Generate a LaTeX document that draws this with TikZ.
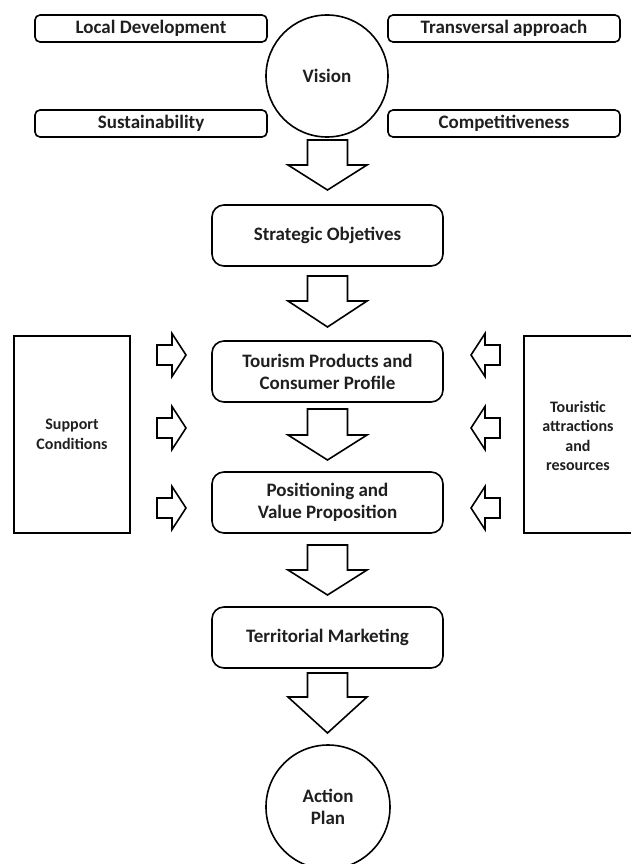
\documentclass[tikz,border=0pt]{standalone}
\usepackage{fontspec}
\setmainfont{Carlito}
\newcommand\bigdownarrow[4]{% x, top, head base, tip
  \draw[blockarrow] (#1-20,#2) -- (#1+20,#2) -- (#1+20,#3) -- (#1+39.5,#3) -- (#1,#4) -- (#1-39.5,#3) -- (#1-20,#3) -- cycle;}
\begin{document}
\begin{tikzpicture}[x=1pt,y=-1pt,
  line width=1.6pt,
  every node/.style={font=\bfseries\fontsize{19}{22}\selectfont, text=black!88, align=center, inner sep=0pt},
  topbox/.style={draw, rounded corners=5pt, minimum width=232pt, minimum height=27pt},
  mainbox/.style={draw, rounded corners=12pt, minimum width=231pt, minimum height=61pt},
  roundnode/.style={draw, circle},
  sidetext/.style={font=\bfseries\fontsize{16}{19.5}\selectfont},
  blockarrow/.style={draw, fill=white, line width=1.6pt, line join=miter},
  rarr/.pic={\draw[blockarrow] (0,-10) -- (15,-10) -- (15,-21.5) -- (29,0) -- (15,21.5) -- (15,10) -- (0,10) -- cycle;},
  larr/.pic={\draw[blockarrow] (0,-10) -- (-15,-10) -- (-15,-21.5) -- (-29,0) -- (-15,21.5) -- (-15,10) -- (0,10) -- cycle;}
]
\useasboundingbox (0,0) rectangle (630,864);

% top row
\node[roundnode, minimum size=122pt] (vision) at (327,76) {Vision};
\node[topbox] (localdev) at (151,28.5) {Local Development};
\node[topbox] (transv) at (504,28.5) {Transversal approach};
\node[topbox] (sustain) at (151,123.5) {Sustainability};
\node[topbox] (compet) at (504,123.5) {Competitiveness};

% main column
\node[mainbox] (strat) at (327.5,235.5) {Strategic Objetives};
\node[mainbox] (tour) at (327.5,371.5) {Tourism Products and\\Consumer Profile};
\node[mainbox] (posit) at (327.5,502.5) {Positioning and\\Value Proposition};
\node[mainbox] (terr) at (327.5,637.5) {Territorial Marketing};
\node[roundnode, minimum size=124pt] (action) at (328,807) {Action\\Plan};

% side blocks
\node[draw, minimum width=116pt, minimum height=197pt, sidetext] (support) at (72,434.5) {Support\\Conditions};
\node[sidetext] (touristic) at (578,436) {Touristic\\attractions\\and\\resources};
\coordinate (tr1) at (632,336);
\coordinate (tr2) at (524,533);
\coordinate (tr3) at (632,533);
\draw (tr1) -| (tr2) -- (tr3);

% big arrows
\bigdownarrow{327.5}{140}{165}{190}
\bigdownarrow{327.5}{276}{301}{327}
\bigdownarrow{327.5}{409}{435}{460}
\bigdownarrow{327.5}{545}{570}{595}
\bigdownarrow{327.5}{673}{697}{733}

% small arrows
\pic at (157,355) {rarr};
\pic at (157,428) {rarr};
\pic at (157,508) {rarr};
\pic at (500,355) {larr};
\pic at (500,428) {larr};
\pic at (500,508) {larr};
\end{tikzpicture}
\end{document}
